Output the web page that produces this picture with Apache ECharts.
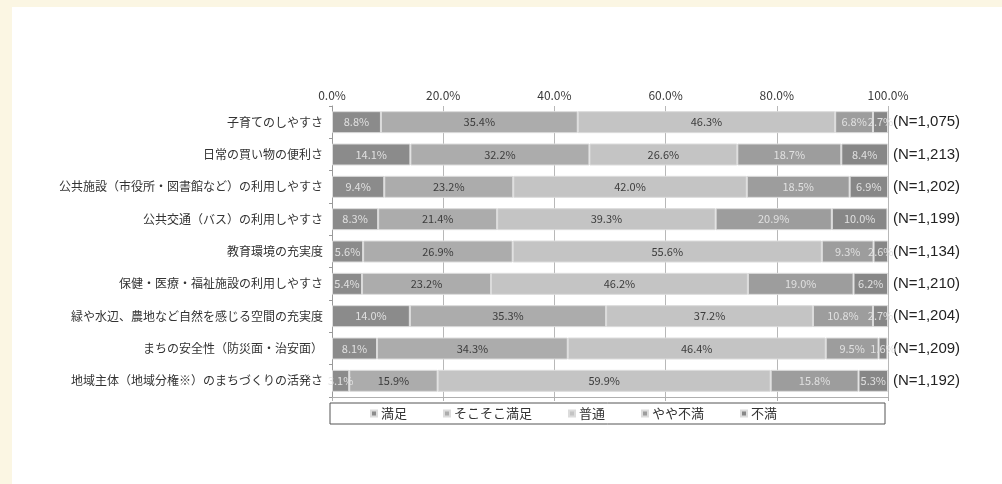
<!DOCTYPE html>
<html>
<head>
<meta charset="utf-8">
<script src="https://cdn.jsdelivr.net/npm/echarts@6/dist/echarts.min.js"></script>
<style>
  html, body { margin: 0; padding: 0; }
  #wrap { position: relative; width: 1002px; height: 484px; background: #fbf6e3; overflow: hidden; }
  #paper { position: absolute; left: 12px; top: 7px; right: 0; bottom: 0; background: #ffffff; }
  #chart { position: absolute; left: 0; top: 0; width: 1002px; height: 484px; }
</style>
</head>
<body>
<div id="wrap">
  <div id="paper"></div>
  <div id="chart"></div>
</div>
<script>
// Survey items, top to bottom
const categories = [
  '子育てのしやすさ',
  '日常の買い物の便利さ',
  '公共施設（市役所・図書館など）の利用しやすさ',
  '公共交通（バス）の利用しやすさ',
  '教育環境の充実度',
  '保健・医療・福祉施設の利用しやすさ',
  '緑や水辺、農地など自然を感じる空間の充実度',
  'まちの安全性（防災面・治安面）',
  '地域主体（地域分権※）のまちづくりの活発さ'
];
const respondents = ['(N=1,075)', '(N=1,213)', '(N=1,202)', '(N=1,199)', '(N=1,134)', '(N=1,210)', '(N=1,204)', '(N=1,209)', '(N=1,192)'];

// Share of answers (%) per item
const satisfied         = [8.8, 14.1, 9.4, 8.3, 5.6, 5.4, 14.0, 8.1, 3.1];
const fairlySatisfied   = [35.4, 32.2, 23.2, 21.4, 26.9, 23.2, 35.3, 34.3, 15.9];
const neutral           = [46.3, 26.6, 42.0, 39.3, 55.6, 46.2, 37.2, 46.4, 59.9];
const slightlyUnhappy   = [6.8, 18.7, 18.5, 20.9, 9.3, 19.0, 10.8, 9.5, 15.8];
const unhappy           = [2.7, 8.4, 6.9, 10.0, 2.6, 6.2, 2.7, 1.6, 5.3];

const seriesNames = ['満足', 'そこそこ満足', '普通', 'やや不満', '不満'];
const seriesData = [satisfied, fairlySatisfied, neutral, slightlyUnhappy, unhappy];
const xTicks = [0, 20, 40, 60, 80, 100];

const colors = ['#8b8b8b', '#acacac', '#c4c4c4', '#9d9d9d', '#878787'];
const labelColors = ['#e0e0e0', '#3c3c3c', '#3c3c3c', '#e0e0e0', '#e0e0e0'];
const FONT = '"Noto Sans CJK JP", "Noto Sans", sans-serif';

const chart = echarts.init(document.getElementById('chart'), null, { renderer: 'canvas' });

const series = seriesNames.map((name, i) => ({
  name: name,
  type: 'bar',
  stack: 'total',
  barWidth: 22,
  data: seriesData[i],
  itemStyle: { color: colors[i], borderColor: '#dcdcdc', borderWidth: 1 },
  label: {
    show: true,
    position: 'inside',
    color: labelColors[i],
    fontFamily: FONT,
    fontSize: 11,
    formatter: p => p.value.toFixed(1) + '%'
  },
  emphasis: { disabled: true }
}));

chart.setOption({
  backgroundColor: 'transparent',
  animation: false,
  color: colors,
  textStyle: { fontFamily: FONT },
  grid: { left: 332, right: 114, top: 106, bottom: 87, containLabel: false },
  xAxis: [
    {
      type: 'value',
      position: 'top',
      min: 0,
      max: 100,
      interval: 20,
      axisLine: { show: false },
      axisTick: { show: false },
      splitLine: { show: true, lineStyle: { color: '#b8b8b8', width: 1 } },
      axisLabel: {
        color: '#3a3a3a',
        fontSize: 12,
        margin: 5,
        fontFamily: FONT,
        formatter: v => (xTicks.indexOf(v) >= 0 ? v.toFixed(1) + '%' : '')
      }
    },
    {
      type: 'value',
      position: 'bottom',
      min: 0,
      max: 100,
      interval: 20,
      axisLine: { show: true, lineStyle: { color: '#b0b0b0' } },
      axisTick: { show: true, length: 4, lineStyle: { color: '#b0b0b0' } },
      splitLine: { show: false },
      axisLabel: { show: false }
    }
  ],
  yAxis: [
    {
      type: 'category',
      data: categories,
      inverse: true,
      axisLine: { show: true, lineStyle: { color: '#9a9a9a' } },
      axisTick: { show: true, length: 3, lineStyle: { color: '#9a9a9a' } },
      axisLabel: { color: '#333', fontSize: 12, margin: 9, fontFamily: FONT }
    },
    {
      type: 'category',
      data: respondents,
      inverse: true,
      position: 'right',
      axisLine: { show: false },
      axisTick: { show: false },
      axisLabel: { color: '#222', fontSize: 15, margin: 5, fontFamily: '"Liberation Sans", Arial, sans-serif' }
    }
  ],
  legend: {
    data: seriesNames,
    left: 330,
    top: 403,
    orient: 'horizontal',
    icon: 'rect',
    itemWidth: 6,
    itemHeight: 6,
    itemGap: 36,
    padding: [4, 108, 4, 40],
    borderColor: '#555',
    borderWidth: 1,
    textStyle: { color: '#333', fontSize: 13, fontFamily: FONT, padding: [0, 0, 0, -1] },
    selectedMode: false
  },
  series: series
});
</script>
</body>
</html>
